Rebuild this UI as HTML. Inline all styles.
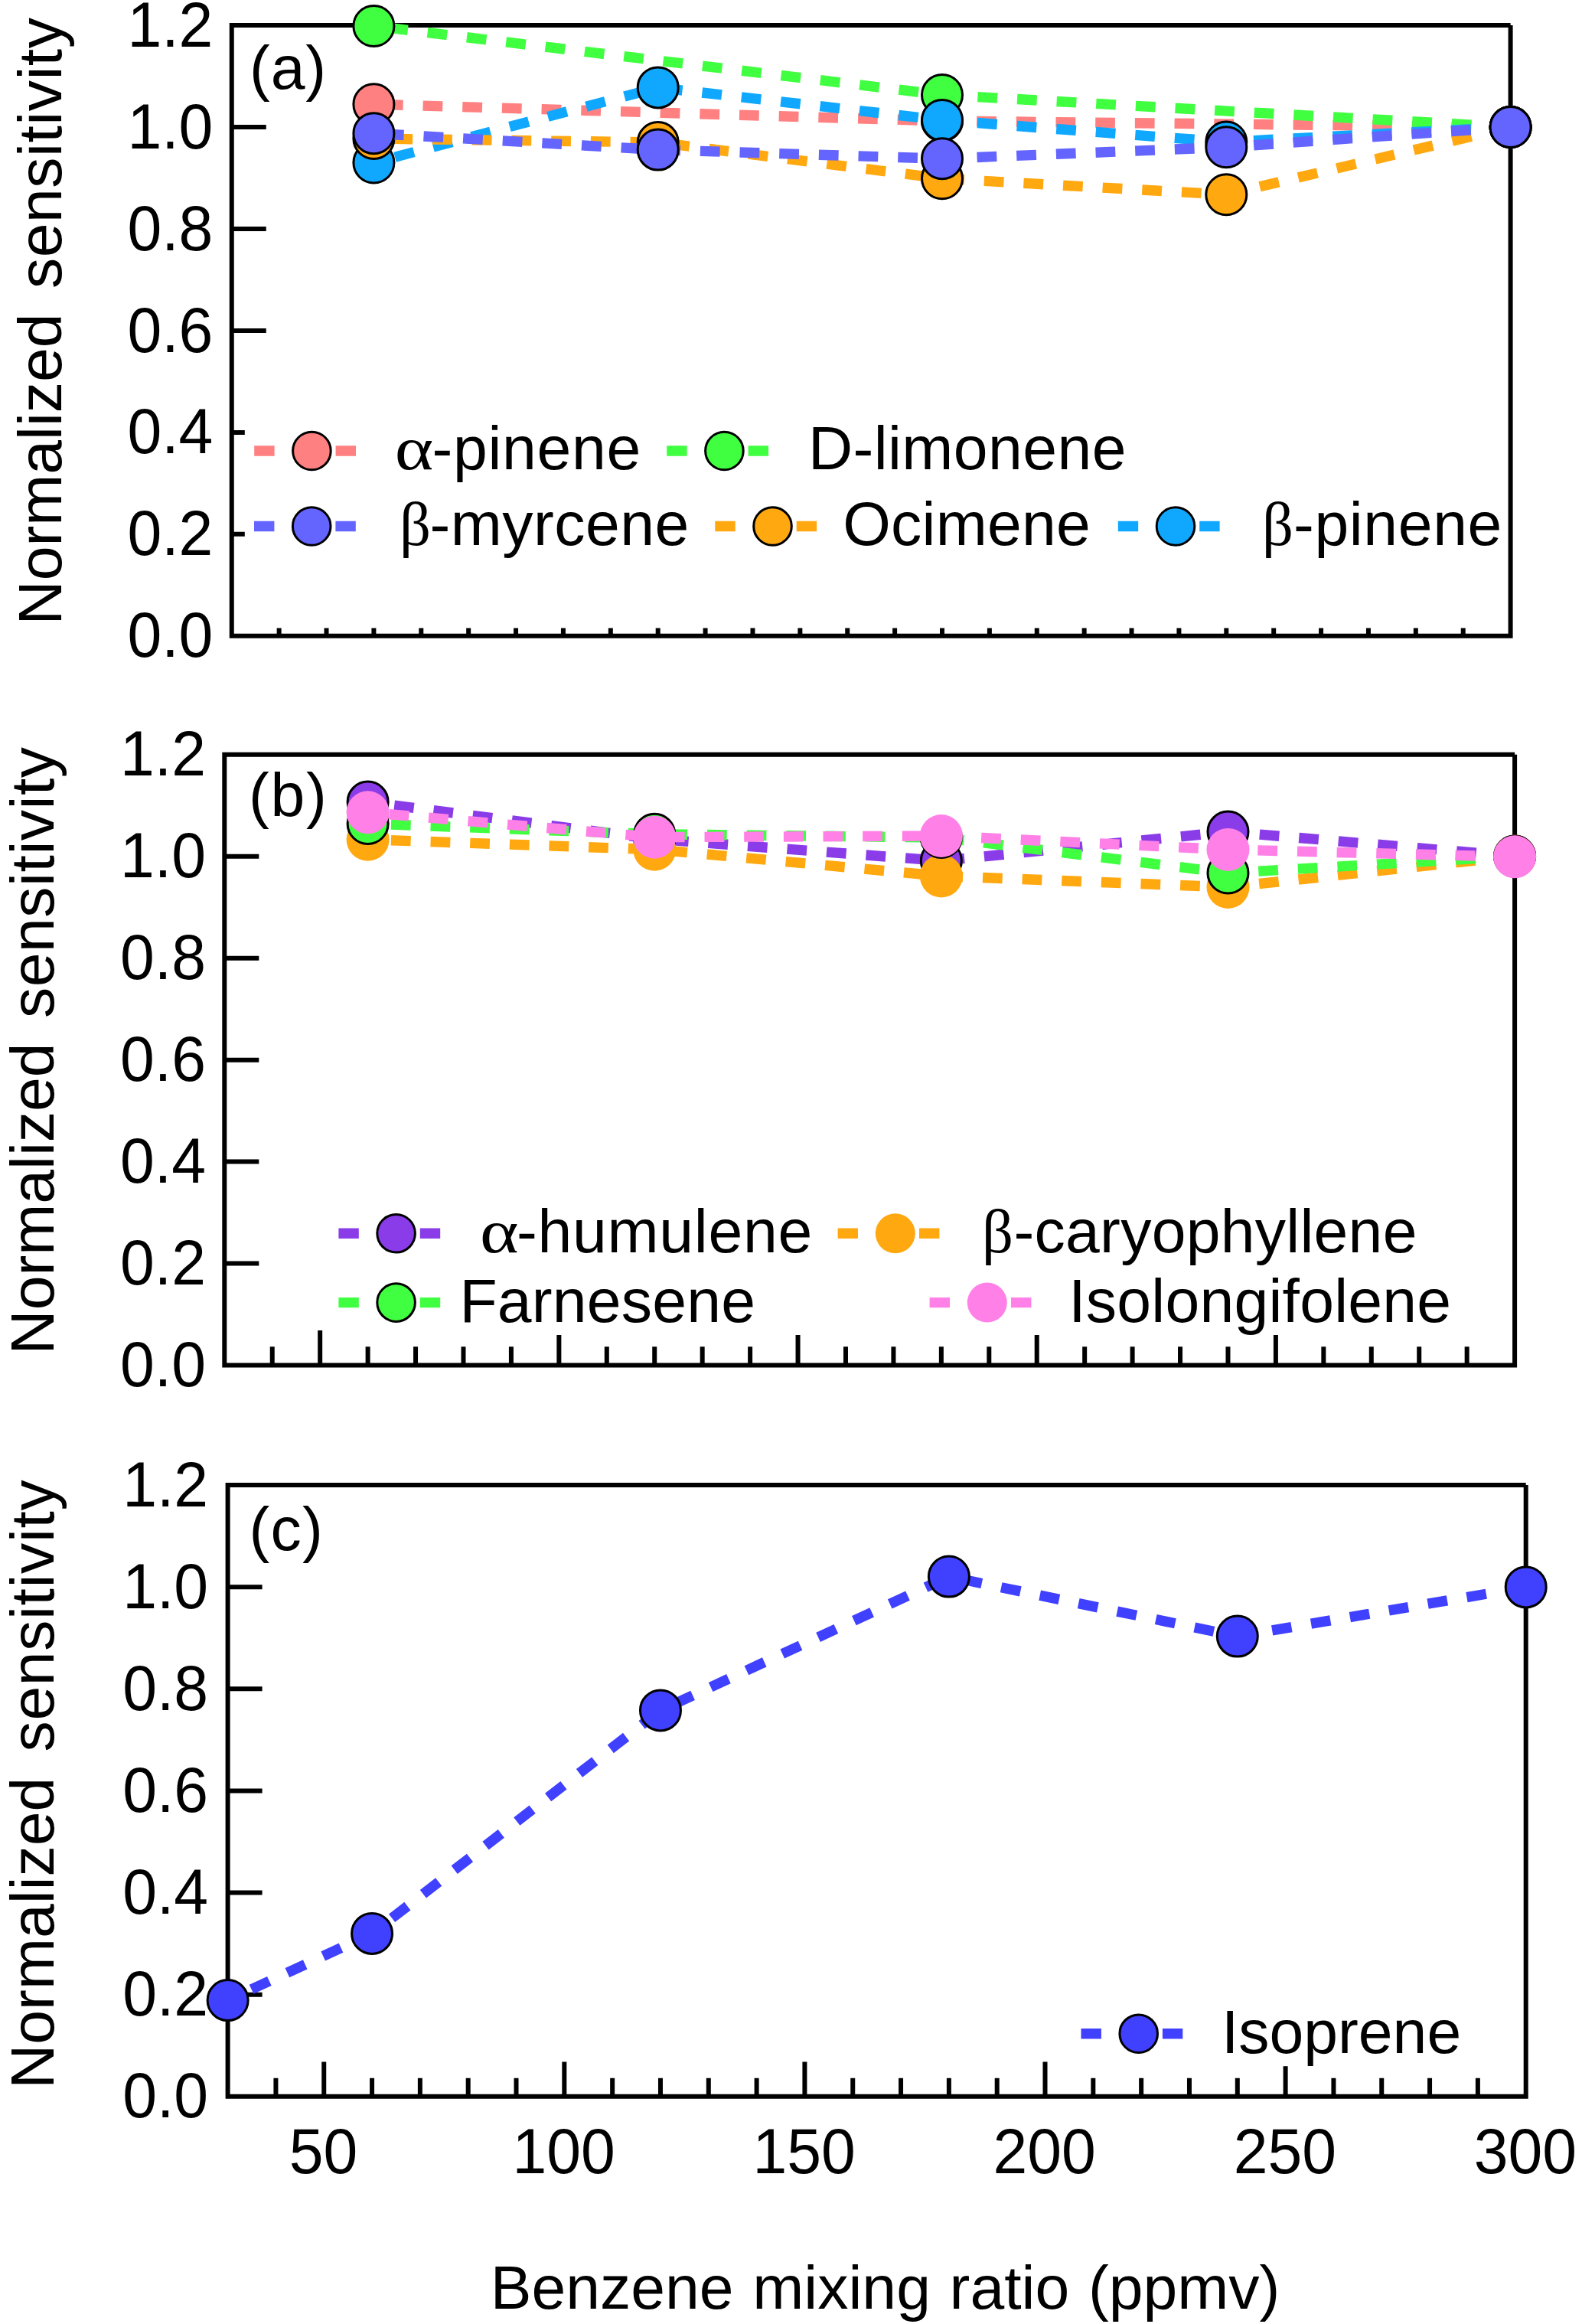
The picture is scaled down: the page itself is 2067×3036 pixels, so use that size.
<!DOCTYPE html>
<html lang="en">
<head>
<meta charset="utf-8">
<title>Normalized sensitivity vs benzene mixing ratio</title>
<style>
html,body{margin:0;padding:0;background:#fff;}
body{width:2067px;height:3036px;overflow:hidden;}
svg{display:block;}
text{font-family:"Liberation Sans",sans-serif;font-size:80.5px;fill:#000;font-kerning:none;}
.g{font-family:"Liberation Serif",serif;font-size:80.5px;}
</style>
</head>
<body>
<svg width="2067" height="3036" viewBox="0 0 2067 3036">
<rect width="2067" height="3036" fill="#fff"/>
<g id="panel-a">
<path d="M1973.6 33.05H302.75V830.8H1973.6V33.05M302.75 697.84h45M302.75 564.88h45M302.75 431.92h45M302.75 298.97h45M302.75 166.01h45M364.63 830.8v-10.4M426.52 830.8v-10.4M488.4 830.8v-10.4M550.28 830.8v-10.4M612.17 830.8v-10.4M674.05 830.8v-10.4M735.93 830.8v-10.4M797.82 830.8v-10.4M859.7 830.8v-10.4M921.58 830.8v-10.4M983.47 830.8v-10.4M1045.35 830.8v-10.4M1107.23 830.8v-10.4M1169.12 830.8v-10.4M1231 830.8v-10.4M1292.88 830.8v-10.4M1354.77 830.8v-10.4M1416.65 830.8v-10.4M1478.53 830.8v-10.4M1540.42 830.8v-10.4M1602.3 830.8v-10.4M1664.18 830.8v-10.4M1726.07 830.8v-10.4M1787.95 830.8v-10.4M1849.83 830.8v-10.4M1911.72 830.8v-10.4" fill="none" stroke="#000" stroke-width="6"/>
<rect x="319.8" y="548" width="1640" height="190" fill="#fff"/>
<path d="M488.4 136.2L1231 158L1973.6 166.05" fill="none" stroke="#ff8080" stroke-width="13.4" stroke-dasharray="25.75 25.95" stroke-dashoffset="39.2"/>
<circle cx="488.4" cy="136.2" r="26.5" fill="#ff8080" stroke="#000" stroke-width="3"/>
<circle cx="1231" cy="158" r="26.5" fill="#ff8080" stroke="#000" stroke-width="3"/>
<circle cx="1973.6" cy="166.05" r="26.5" fill="#ff8080" stroke="#000" stroke-width="3"/>
<path d="M488.4 34L1231 124L1973.6 166.05" fill="none" stroke="#40ff40" stroke-width="13.4" stroke-dasharray="25.75 25.95" stroke-dashoffset="32.7"/>
<circle cx="488.4" cy="34" r="26.5" fill="#40ff40" stroke="#000" stroke-width="3"/>
<circle cx="1231" cy="124" r="26.5" fill="#40ff40" stroke="#000" stroke-width="3"/>
<circle cx="1973.6" cy="166.05" r="26.5" fill="#40ff40" stroke="#000" stroke-width="3"/>
<path d="M488.4 212.5L859.7 114.4L1231 157L1602.3 185.5L1973.6 166.05" fill="none" stroke="#10a8ff" stroke-width="13.4" stroke-dasharray="25.75 25.95" stroke-dashoffset="23.2"/>
<circle cx="488.4" cy="212.5" r="26.5" fill="#10a8ff" stroke="#000" stroke-width="3"/>
<circle cx="859.7" cy="114.4" r="26.5" fill="#10a8ff" stroke="#000" stroke-width="3"/>
<circle cx="1231" cy="157" r="26.5" fill="#10a8ff" stroke="#000" stroke-width="3"/>
<circle cx="1602.3" cy="185.5" r="26.5" fill="#10a8ff" stroke="#000" stroke-width="3"/>
<circle cx="1973.6" cy="166.05" r="26.5" fill="#10a8ff" stroke="#000" stroke-width="3"/>
<path d="M488.4 181L859.7 186L1231 233.3L1602.3 254.2L1973.6 166.05" fill="none" stroke="#ffa810" stroke-width="13.4" stroke-dasharray="25.75 25.95" stroke-dashoffset="26.7"/>
<circle cx="488.4" cy="181" r="26.5" fill="#ffa810" stroke="#000" stroke-width="3"/>
<circle cx="859.7" cy="186" r="26.5" fill="#ffa810" stroke="#000" stroke-width="3"/>
<circle cx="1231" cy="233.3" r="26.5" fill="#ffa810" stroke="#000" stroke-width="3"/>
<circle cx="1602.3" cy="254.2" r="26.5" fill="#ffa810" stroke="#000" stroke-width="3"/>
<circle cx="1973.6" cy="166.05" r="26.5" fill="#ffa810" stroke="#000" stroke-width="3"/>
<path d="M488.4 174.2L859.7 195.6L1231 207.3L1602.3 192.3L1973.6 166.05" fill="none" stroke="#6464ff" stroke-width="13.4" stroke-dasharray="25.75 25.95" stroke-dashoffset="38.2"/>
<circle cx="488.4" cy="174.2" r="26.5" fill="#6464ff" stroke="#000" stroke-width="3"/>
<circle cx="859.7" cy="195.6" r="26.5" fill="#6464ff" stroke="#000" stroke-width="3"/>
<circle cx="1231" cy="207.3" r="26.5" fill="#6464ff" stroke="#000" stroke-width="3"/>
<circle cx="1602.3" cy="192.3" r="26.5" fill="#6464ff" stroke="#000" stroke-width="3"/>
<circle cx="1973.6" cy="166.05" r="26.5" fill="#6464ff" stroke="#000" stroke-width="3"/>
<text id="a_y0" text-anchor="end" transform="translate(278.3 858.4) scale(1 1.04)">0.0</text>
<text id="a_y1" text-anchor="end" transform="translate(278.3 725.44) scale(1 1.04)">0.2</text>
<text id="a_y2" text-anchor="end" transform="translate(278.3 592.48) scale(1 1.04)">0.4</text>
<text id="a_y3" text-anchor="end" transform="translate(278.3 459.52) scale(1 1.04)">0.6</text>
<text id="a_y4" text-anchor="end" transform="translate(278.3 326.57) scale(1 1.04)">0.8</text>
<text id="a_y5" text-anchor="end" transform="translate(278.3 193.61) scale(1 1.04)">1.0</text>
<text id="a_y6" text-anchor="end" transform="translate(278.3 60.65) scale(1 1.04)">1.2</text>
<text transform="translate(79.9 816.5) rotate(-90)"><tspan id="a_yt1" x="0">Normalized </tspan><tspan id="a_yt2" letter-spacing="0.5" x="439.5">sensitivity</tspan></text>
<text id="a_lab" letter-spacing="0.85" x="326.1" y="115.8">(a)</text>
<path d="M332.2 589h26.4M438.6 589h26.4" stroke="#ff8080" stroke-width="13.4" fill="none"/>
<circle cx="407.4" cy="589" r="24.8" fill="#ff8080" stroke="#000" stroke-width="3"/>
<path d="M871.2 589h26.4M977.6 589h26.4" stroke="#40ff40" stroke-width="13.4" fill="none"/>
<circle cx="946.4" cy="589" r="24.8" fill="#40ff40" stroke="#000" stroke-width="3"/>
<path d="M332 687.5h26.4M438.4 687.5h26.4" stroke="#6464ff" stroke-width="13.4" fill="none"/>
<circle cx="407.2" cy="687.5" r="24.8" fill="#6464ff" stroke="#000" stroke-width="3"/>
<path d="M934.3 687.5h26.4M1040.7 687.5h26.4" stroke="#ffa810" stroke-width="13.4" fill="none"/>
<circle cx="1009.5" cy="687.5" r="24.8" fill="#ffa810" stroke="#000" stroke-width="3"/>
<path d="M1460.8 687.5h26.4M1567.2 687.5h26.4" stroke="#10a8ff" stroke-width="13.4" fill="none"/>
<circle cx="1536" cy="687.5" r="24.8" fill="#10a8ff" stroke="#000" stroke-width="3"/>
<text y="613.3"><tspan id="a_l1g" class="g" x="515.8" textLength="50.61" lengthAdjust="spacingAndGlyphs">α</tspan><tspan id="a_l1" letter-spacing="0.72" x="564.5">-pinene</tspan></text>
<text id="a_l2" letter-spacing="0.44" x="1055.9" y="613.3">D-limonene</text>
<text y="711.8"><tspan id="a_l3g" class="g" x="522">β</tspan><tspan id="a_l3" letter-spacing="0.46" x="561.5">-myrcene</tspan></text>
<text id="a_l4" letter-spacing="0.25" x="1101.2" y="711.8">Ocimene</text>
<text y="711.8"><tspan id="a_l5g" class="g" x="1649">β</tspan><tspan id="a_l5" letter-spacing="0.63" x="1690">-pinene</tspan></text>
</g>
<g id="panel-b">
<path d="M1979.1 985.8H293.3V1783.5H1979.1V985.8M293.3 1650.55h45M293.3 1517.6h45M293.3 1384.65h45M293.3 1251.7h45M293.3 1118.75h45M355.74 1783.5v-24.2M418.17 1783.5v-45.5M480.61 1783.5v-24.2M543.05 1783.5v-24.2M605.49 1783.5v-24.2M667.92 1783.5v-24.2M730.36 1783.5v-45.5M792.8 1783.5v-24.2M855.23 1783.5v-24.2M917.67 1783.5v-24.2M980.11 1783.5v-24.2M1042.54 1783.5v-45.5M1104.98 1783.5v-24.2M1167.42 1783.5v-24.2M1229.86 1783.5v-24.2M1292.29 1783.5v-24.2M1354.73 1783.5v-45.5M1417.17 1783.5v-24.2M1479.6 1783.5v-24.2M1542.04 1783.5v-24.2M1604.48 1783.5v-24.2M1666.91 1783.5v-45.5M1729.35 1783.5v-24.2M1791.79 1783.5v-24.2M1854.23 1783.5v-24.2M1916.66 1783.5v-24.2" fill="none" stroke="#000" stroke-width="6"/>
<rect x="430" y="1725" width="1480" height="19" fill="#fff"/>
<path d="M480.61 1047.6L855.23 1096L1229.86 1124.5L1604.48 1086.6L1979.1 1118.5" fill="none" stroke="#8a3ce8" stroke-width="13.4" stroke-dasharray="25.73 25.93" stroke-dashoffset="16.8"/>
<circle cx="480.61" cy="1047.6" r="26.5" fill="#8a3ce8" stroke="#000" stroke-width="3"/>
<circle cx="855.23" cy="1096" r="26.5" fill="#8a3ce8" stroke="#000" stroke-width="3"/>
<circle cx="1229.86" cy="1124.5" r="26.5" fill="#8a3ce8" stroke="#000" stroke-width="3"/>
<circle cx="1604.48" cy="1086.6" r="26.5" fill="#8a3ce8" stroke="#000" stroke-width="3"/>
<circle cx="1979.1" cy="1118.5" r="26.5" fill="#8a3ce8" stroke="#000" stroke-width="3"/>
<path d="M480.61 1096.7L855.23 1109.7L1229.86 1144.4L1604.48 1158.9L1979.1 1118.5" fill="none" stroke="#ffa810" stroke-width="13.4" stroke-dasharray="25.73 25.93" stroke-dashoffset="21.3"/>
<circle cx="480.61" cy="1096.7" r="28.0" fill="#ffa810"/>
<circle cx="855.23" cy="1109.7" r="28.0" fill="#ffa810"/>
<circle cx="1229.86" cy="1144.4" r="28.0" fill="#ffa810"/>
<circle cx="1604.48" cy="1158.9" r="28.0" fill="#ffa810"/>
<circle cx="1979.1" cy="1118.5" r="28.0" fill="#ffa810"/>
<path d="M480.61 1076L855.23 1089.8L1229.86 1094L1604.48 1140.5L1979.1 1118.5" fill="none" stroke="#40ff40" stroke-width="13.4" stroke-dasharray="25.73 25.93" stroke-dashoffset="21.3"/>
<circle cx="480.61" cy="1076" r="26.5" fill="#40ff40" stroke="#000" stroke-width="3"/>
<circle cx="855.23" cy="1089.8" r="26.5" fill="#40ff40" stroke="#000" stroke-width="3"/>
<circle cx="1229.86" cy="1094" r="26.5" fill="#40ff40" stroke="#000" stroke-width="3"/>
<circle cx="1604.48" cy="1140.5" r="26.5" fill="#40ff40" stroke="#000" stroke-width="3"/>
<circle cx="1979.1" cy="1118.5" r="26.5" fill="#40ff40" stroke="#000" stroke-width="3"/>
<path d="M480.61 1061.3L855.23 1093.7L1229.86 1092L1604.48 1109.9L1979.1 1119.3" fill="none" stroke="#ff80e6" stroke-width="13.4" stroke-dasharray="25.73 25.93" stroke-dashoffset="23.6"/>
<circle cx="480.61" cy="1061.3" r="28.0" fill="#ff80e6"/>
<circle cx="855.23" cy="1093.7" r="28.0" fill="#ff80e6"/>
<circle cx="1229.86" cy="1092" r="28.0" fill="#ff80e6"/>
<circle cx="1604.48" cy="1109.9" r="28.0" fill="#ff80e6"/>
<circle cx="1979.1" cy="1119.3" r="28.0" fill="#ff80e6"/>
<text id="b_y0" text-anchor="end" transform="translate(268.9 1811.1) scale(1 1.04)">0.0</text>
<text id="b_y1" text-anchor="end" transform="translate(268.9 1678.15) scale(1 1.04)">0.2</text>
<text id="b_y2" text-anchor="end" transform="translate(268.9 1545.2) scale(1 1.04)">0.4</text>
<text id="b_y3" text-anchor="end" transform="translate(268.9 1412.25) scale(1 1.04)">0.6</text>
<text id="b_y4" text-anchor="end" transform="translate(268.9 1279.3) scale(1 1.04)">0.8</text>
<text id="b_y5" text-anchor="end" transform="translate(268.9 1146.35) scale(1 1.04)">1.0</text>
<text id="b_y6" text-anchor="end" transform="translate(268.9 1013.4) scale(1 1.04)">1.2</text>
<text transform="translate(70.3 1769.5) rotate(-90)"><tspan id="b_yt1" x="0">Normalized </tspan><tspan id="b_yt2" letter-spacing="0.52" x="439.5">sensitivity</tspan></text>
<text id="b_lab" letter-spacing="1.75" x="325" y="1066">(b)</text>
<path d="M442.4 1611.3h26.4M548.8 1611.3h26.4" stroke="#8a3ce8" stroke-width="13.4" fill="none"/>
<circle cx="517.6" cy="1611.3" r="24.8" fill="#8a3ce8" stroke="#000" stroke-width="3"/>
<path d="M1094.6 1611.3h26.4M1201 1611.3h26.4" stroke="#ffa810" stroke-width="13.4" fill="none"/>
<circle cx="1169.8" cy="1611.3" r="26" fill="#ffa810"/>
<path d="M442.4 1701.6h26.4M548.8 1701.6h26.4" stroke="#40ff40" stroke-width="13.4" fill="none"/>
<circle cx="517.6" cy="1701.6" r="24.8" fill="#40ff40" stroke="#000" stroke-width="3"/>
<path d="M1214.6 1701.6h26.4M1321 1701.6h26.4" stroke="#ff80e6" stroke-width="13.4" fill="none"/>
<circle cx="1289.8" cy="1701.6" r="26" fill="#ff80e6"/>
<text y="1635.9"><tspan id="b_l1g" class="g" x="626.9" textLength="50.61" lengthAdjust="spacingAndGlyphs">α</tspan><tspan id="b_l1" letter-spacing="0.73" x="675">-humulene</tspan></text>
<text y="1635.9"><tspan id="b_l2g" class="g" x="1283">β</tspan><tspan id="b_l2" letter-spacing="0.26" x="1324.5">-caryophyllene</tspan></text>
<text id="b_l3" letter-spacing="0.21" x="600.4" y="1726.8">Farnesene</text>
<text id="b_l4" letter-spacing="0.24" x="1396.2" y="1726.8">Isolongifolene</text>
</g>
<g id="panel-c">
<path d="M1993.7 1940.1H297.6V2738.8H1993.7V1940.1M297.6 2605.68h45M297.6 2472.57h45M297.6 2339.45h45M297.6 2206.33h45M297.6 2073.22h45M360.42 2738.8v-24M423.24 2738.8v-45.3M486.06 2738.8v-24M548.87 2738.8v-24M611.69 2738.8v-24M674.51 2738.8v-24M737.33 2738.8v-45.3M800.15 2738.8v-24M862.97 2738.8v-24M925.79 2738.8v-24M988.6 2738.8v-24M1051.42 2738.8v-45.3M1114.24 2738.8v-24M1177.06 2738.8v-24M1239.88 2738.8v-24M1302.7 2738.8v-24M1365.51 2738.8v-45.3M1428.33 2738.8v-24M1491.15 2738.8v-24M1553.97 2738.8v-24M1616.79 2738.8v-24M1679.61 2738.8v-45.3M1742.43 2738.8v-24M1805.24 2738.8v-24M1868.06 2738.8v-24M1930.88 2738.8v-24" fill="none" stroke="#000" stroke-width="6"/>
<rect x="1400" y="2680" width="530" height="19.2" fill="#fff"/>
<path d="M297.6 2613.1L486.06 2525.9L862.97 2234.4L1239.88 2059.6L1616.79 2137.6L1993.7 2073.4" fill="none" stroke="#4040ff" stroke-width="13.4" stroke-dasharray="25.7 25.9" stroke-dashoffset="17.5"/>
<circle cx="297.6" cy="2613.1" r="26.5" fill="#4040ff" stroke="#000" stroke-width="3"/>
<circle cx="486.06" cy="2525.9" r="26.5" fill="#4040ff" stroke="#000" stroke-width="3"/>
<circle cx="862.97" cy="2234.4" r="26.5" fill="#4040ff" stroke="#000" stroke-width="3"/>
<circle cx="1239.88" cy="2059.6" r="26.5" fill="#4040ff" stroke="#000" stroke-width="3"/>
<circle cx="1616.79" cy="2137.6" r="26.5" fill="#4040ff" stroke="#000" stroke-width="3"/>
<circle cx="1993.7" cy="2073.4" r="26.5" fill="#4040ff" stroke="#000" stroke-width="3"/>
<text id="c_y0" text-anchor="end" transform="translate(272.1 2766.4) scale(1 1.04)">0.0</text>
<text id="c_y1" text-anchor="end" transform="translate(272.1 2633.28) scale(1 1.04)">0.2</text>
<text id="c_y2" text-anchor="end" transform="translate(272.1 2500.17) scale(1 1.04)">0.4</text>
<text id="c_y3" text-anchor="end" transform="translate(272.1 2367.05) scale(1 1.04)">0.6</text>
<text id="c_y4" text-anchor="end" transform="translate(272.1 2233.93) scale(1 1.04)">0.8</text>
<text id="c_y5" text-anchor="end" transform="translate(272.1 2100.82) scale(1 1.04)">1.0</text>
<text id="c_y6" text-anchor="end" transform="translate(272.1 1967.7) scale(1 1.04)">1.2</text>
<text transform="translate(70.3 2728.8) rotate(-90)"><tspan id="c_yt1" x="0">Normalized </tspan><tspan id="c_yt2" letter-spacing="0.62" x="440.4">sensitivity</tspan></text>
<text id="c_lab" letter-spacing="1.15" x="325.6" y="2024.8">(c)</text>
<path d="M1412.5 2656.7h26.4M1518.9 2656.7h26.4" stroke="#4040ff" stroke-width="13.4" fill="none"/>
<circle cx="1487.7" cy="2656.7" r="24.8" fill="#4040ff" stroke="#000" stroke-width="3"/>
<text id="c_l1" x="1595.9" y="2681.5">Isoprene</text>
<text id="c_x50" text-anchor="middle" transform="translate(422.44 2838.5) scale(1 1.04)">50</text>
<text id="c_x100" text-anchor="middle" transform="translate(736.53 2838.5) scale(1 1.04)">100</text>
<text id="c_x150" text-anchor="middle" transform="translate(1050.62 2838.5) scale(1 1.04)">150</text>
<text id="c_x200" text-anchor="middle" transform="translate(1364.71 2838.5) scale(1 1.04)">200</text>
<text id="c_x250" text-anchor="middle" transform="translate(1678.81 2838.5) scale(1 1.04)">250</text>
<text id="c_x300" text-anchor="middle" transform="translate(1992.9 2838.5) scale(1 1.04)">300</text>
<text id="xt" word-spacing="2.33" x="640.8" y="3016">Benzene mixing ratio (ppmv)</text>
</g>
</svg>
</body>
</html>
